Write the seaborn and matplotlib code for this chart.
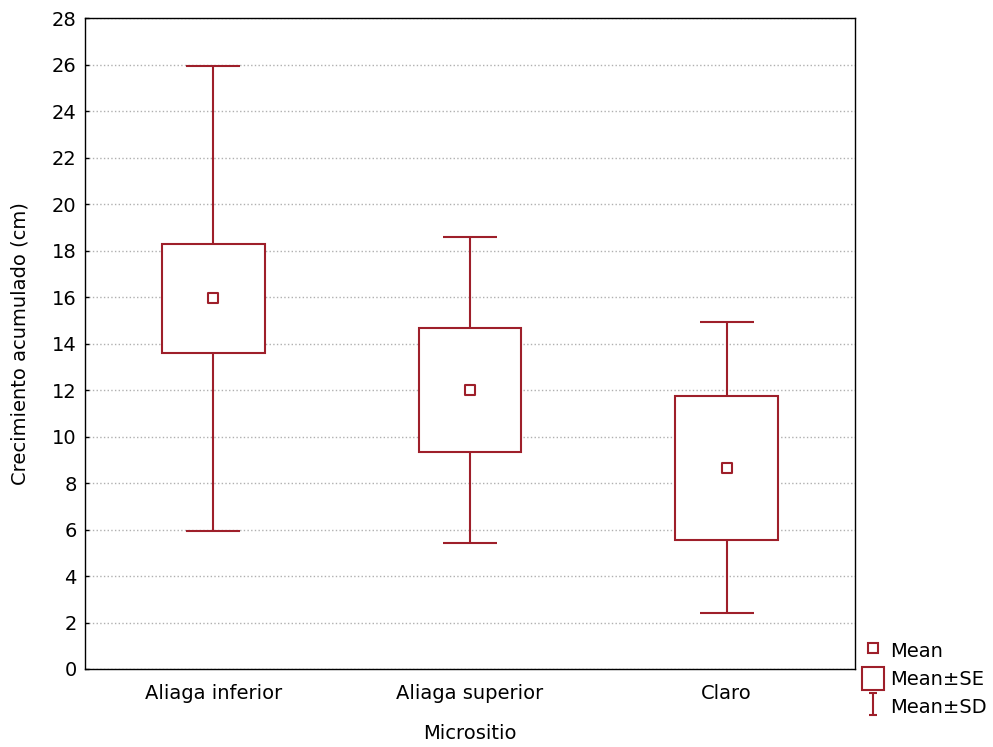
import numpy as np
import pandas as pd
import seaborn as sns
import matplotlib.pyplot as plt
from matplotlib.lines import Line2D
from matplotlib.patches import Rectangle
from matplotlib.path import Path

# values
categories = ['Aliaga inferior', 'Aliaga superior', 'Claro']
means = [15.95, 12.0, 8.65]
se = [2.35, 2.67, 3.1]
sd = [10.0, 6.56, 6.26]

df = pd.DataFrame({'Micrositio': categories, 'mean': means, 'se': se, 'sd': sd})

sns.set_style('white')
plt.rcParams['font.family'] = ['DejaVu Sans']
plt.rcParams['text.color'] = 'black'
plt.rcParams['axes.labelcolor'] = 'black'
plt.rcParams['xtick.color'] = 'black'
plt.rcParams['ytick.color'] = 'black'
red = '#9e1f2a'
fs = 14

fig = plt.figure(figsize=(9.93, 7.47), dpi=100)
ax = fig.add_axes([85 / 993, 1 - 669 / 747, 770 / 993, 651 / 747])

x = np.arange(len(df))

# Mean +- SD whiskers
ax.errorbar(x, df['mean'], yerr=df['sd'], fmt='none', ecolor=red,
            elinewidth=1.5, capsize=19.5, capthick=1.5, zorder=2)

# Mean +- SE boxes
ax.bar(x, 2 * df['se'], bottom=df['mean'] - df['se'], width=0.4,
       color='white', edgecolor=red, linewidth=1.5, zorder=3)

# mean markers
sns.scatterplot(data=df, x='Micrositio', y='mean', marker='s', s=45,
                facecolor='white', edgecolor=red, linewidth=1.5, zorder=4,
                ax=ax, legend=False)

ax.set_xlim(-0.5, len(df) - 0.5)
ax.set_ylim(0, 28)
ax.set_yticks(range(0, 29, 2))
ax.set_xticks(x)
ax.set_xticklabels(categories)
ax.yaxis.grid(True, linestyle=':', color='#b0b0b0', linewidth=1)
ax.set_axisbelow(True)
ax.tick_params(axis='y', direction='in', length=3, width=1, labelsize=fs, left=True, pad=6)
ax.tick_params(axis='x', direction='in', length=0, labelsize=fs, pad=11)
for s in ax.spines.values():
    s.set_color('black')
    s.set_linewidth(1)

ax.set_xlabel('Micrositio', fontsize=fs, labelpad=15)
ax.set_ylabel('Crecimiento acumulado (cm)', fontsize=fs, labelpad=16)

# legend handles
cap = Path([(-0.37, -1), (0.37, -1), (0, -1), (0, 1), (-0.37, 1), (0.37, 1)],
           [Path.MOVETO, Path.LINETO, Path.MOVETO, Path.LINETO, Path.MOVETO, Path.LINETO])
h_mean = Line2D([], [], marker='s', markersize=7, markerfacecolor='white',
                markeredgecolor=red, markeredgewidth=1.5, linestyle='none')
h_se = Rectangle((0, 0), 1, 1, facecolor='white', edgecolor=red, linewidth=1.5)
h_sd = Line2D([], [], marker=cap, markersize=16, markerfacecolor='none',
              markeredgecolor=red, markeredgewidth=1.5, linestyle='none')
ax.legend([h_mean, h_se, h_sd], ['Mean', 'Mean±SE', 'Mean±SD'],
          loc='upper left', bbox_to_anchor=(862 / 993, 1 - 639 / 747),
          bbox_transform=fig.transFigure, frameon=False, fontsize=fs,
          handlelength=1.15, handleheight=1.45, handletextpad=0.3,
          labelspacing=0.25, borderaxespad=0, borderpad=0)

fig.savefig('out.png', dpi=100)
